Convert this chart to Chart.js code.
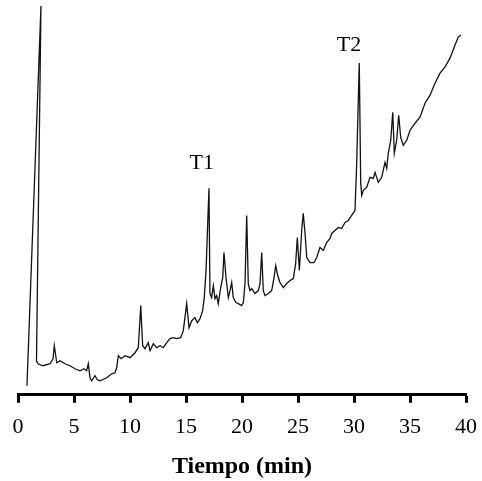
<!DOCTYPE html>
<html lang="es">
<head>
    <meta charset="UTF-8">
    <title>Cromatograma</title>
    <script src="https://cdn.jsdelivr.net/npm/chart.js"></script>
    <style>
        html, body { margin: 0; padding: 0; background: #fff; }
        #wrap { width: 482px; height: 481px; position: relative; }
    </style>
</head>
<body>
    <div id="wrap"><canvas id="myChart"></canvas></div>
    <script>
        const tiempo = [
            0.80, 2.05, 1.65, 1.79, 2.23, 2.86, 3.13, 3.24, 3.46, 3.75,
            4.20, 4.64, 5.09, 5.54, 5.89, 6.13, 6.28, 6.43, 6.58, 6.88,
            7.08, 7.32, 7.92, 8.37, 8.66, 8.81, 8.96, 9.20, 9.55, 10.00,
            10.45, 10.74, 10.96, 11.13, 11.34, 11.63, 11.79, 12.08, 12.38, 12.68,
            12.97, 13.28, 13.57, 13.87, 14.17, 14.53, 14.76, 15.06, 15.27, 15.51,
            15.80, 16.01, 16.25, 16.49, 16.63, 16.79, 17.05, 17.14, 17.29, 17.44,
            17.59, 17.74, 17.88, 18.10, 18.28, 18.39, 18.57, 18.78, 18.93, 19.08,
            19.22, 19.46, 19.67, 19.97, 20.12, 20.27, 20.42, 20.56, 20.71, 20.87,
            21.16, 21.46, 21.61, 21.76, 21.90, 22.05, 22.35, 22.65, 22.86, 23.01,
            23.19, 23.39, 23.69, 23.99, 24.29, 24.58, 24.79, 24.94, 25.12, 25.33,
            25.47, 25.63, 25.78, 26.07, 26.43, 26.67, 26.96, 27.26, 27.56, 27.86,
            28.01, 28.30, 28.60, 28.90, 29.20, 29.49, 29.79, 30.09, 30.24, 30.47,
            30.60, 30.69, 30.83, 31.13, 31.43, 31.72, 31.88, 32.17, 32.47, 32.77,
            32.92, 33.06, 33.28, 33.46, 33.60, 33.81, 33.99, 34.17, 34.40, 34.71,
            35.00, 35.45, 35.89, 36.34, 36.79, 37.23, 37.68, 38.12, 38.57, 39.02,
            39.31, 39.55
        ];
        const senal = [
            9, 388, 34, 31, 29, 31, 36, 49, 32, 34,
            31, 29, 26, 24, 26, 24, 31, 17, 14, 19,
            15, 14, 17, 21, 22, 27, 39, 36, 39, 37,
            42, 47, 89, 49, 46, 52, 44, 51, 47, 49,
            47, 52, 56, 57, 56, 57, 64, 91, 67, 74,
            77, 72, 76, 84, 97, 124, 206, 101, 97, 109,
            96, 99, 91, 107, 117, 142, 117, 97, 104, 112,
            97, 92, 91, 89, 92, 111, 179, 111, 104, 106,
            101, 104, 111, 142, 104, 99, 101, 104, 117, 129,
            119, 112, 107, 111, 114, 116, 131, 157, 124, 164,
            181, 161, 137, 132, 132, 137, 147, 144, 152, 156,
            161, 164, 167, 166, 172, 174, 179, 184, 231, 331,
            211, 199, 204, 207, 217, 216, 222, 212, 217, 232,
            226, 241, 254, 282, 241, 254, 279, 257, 249, 254,
            264, 271, 277, 291, 299, 311, 321, 327, 336, 349,
            357, 359
        ];
        const xTicks = [0, 5, 10, 15, 20, 25, 30, 35, 40];
        const picoEtiquetas = ['T1', 'T2'];
        const picoTiempo = [16.4, 29.55];
        const picoSenal = [231, 349];

        const serif = '"Liberation Serif", "Times New Roman", serif';

        const etiquetasPlugin = {
            id: 'etiquetas',
            afterDatasetsDraw(chart) {
                const ctx = chart.ctx;
                const x = chart.scales.x, y = chart.scales.y;
                ctx.save();
                ctx.fillStyle = '#000';
                ctx.font = '22px ' + serif;
                ctx.textAlign = 'center';
                ctx.textBaseline = 'middle';
                picoEtiquetas.forEach((t, i) => {
                    ctx.fillText(t, x.getPixelForValue(picoTiempo[i]), y.getPixelForValue(picoSenal[i]));
                });
                ctx.restore();
            }
        };

        new Chart(document.getElementById('myChart'), {
            type: 'scatter',
            data: {
                datasets: [{
                    data: tiempo.map((t, i) => ({ x: t, y: senal[i] })),
                    showLine: true,
                    borderColor: '#111',
                    borderWidth: 1.3,
                    pointRadius: 0,
                    tension: 0,
                    clip: false
                }]
            },
            options: {
                responsive: true,
                maintainAspectRatio: false,
                animation: false,
                layout: { padding: { top: 4, left: 18, right: 16, bottom: 0 } },
                plugins: { legend: { display: false }, tooltip: { enabled: false } },
                scales: {
                    x: {
                        type: 'linear',
                        min: 0,
                        max: 40,
                        afterBuildTicks: axis => { axis.ticks = xTicks.map(v => ({ value: v })); },
                        afterFit: axis => { axis.paddingLeft = 0; axis.paddingRight = 0; },
                        border: { display: true, color: '#000', width: 3 },
                        grid: { display: true, drawOnChartArea: false, drawTicks: true, tickLength: 8, tickWidth: 3, color: '#000' },
                        ticks: { color: '#000', padding: 11, maxRotation: 0, font: { family: serif, size: 22 } },
                        title: { display: true, text: 'Tiempo (min)', color: '#000', font: { family: serif, size: 24, weight: 'bold' }, padding: { top: 1, bottom: 0 } }
                    },
                    y: { display: false, min: 0, max: 390 }
                }
            },
            plugins: [etiquetasPlugin]
        });
    </script>
</body>
</html>
